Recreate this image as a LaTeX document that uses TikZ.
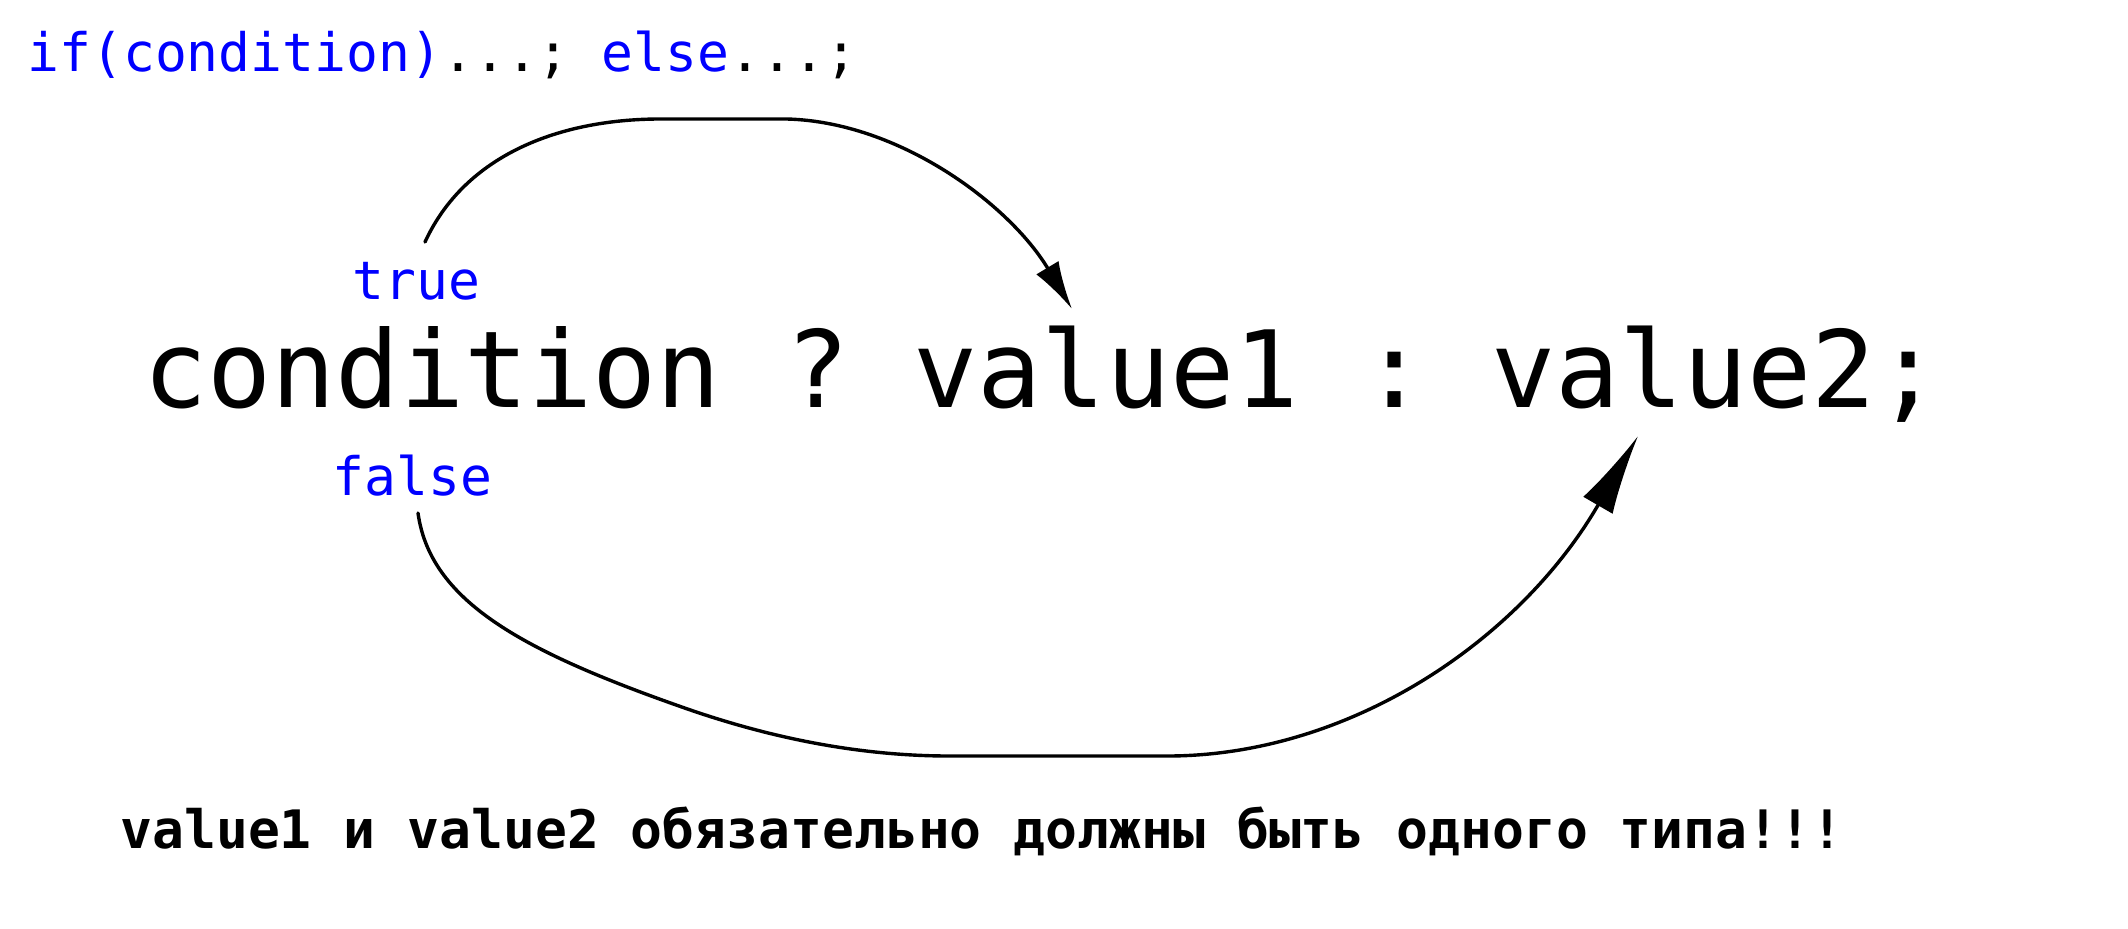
\documentclass[tikz,border=0pt]{standalone}
\usepackage{fontspec}
\setmonofont{DejaVu Sans Mono}
\usetikzlibrary{arrows.meta}
\definecolor{kwblue}{RGB}{0,0,255}
\begin{document}
\begin{tikzpicture}[x=0.5pt,y=-0.5pt,
  small/.style={font=\ttfamily\fontsize{26.5}{30}\selectfont, inner sep=0pt, anchor=base west},
  smallbold/.style={font=\ttfamily\bfseries\fontsize{26.5}{30}\selectfont, inner sep=0pt, anchor=base west},
  big/.style={font=\ttfamily\fontsize{53.3}{60}\selectfont, inner sep=0pt, anchor=base west},
  arr/.style={line width=1.7pt, line cap=round, line join=round}]
\useasboundingbox[fill=white] (0,0) rectangle (2128,928);

\node[small] (ifelse) at (27,71) {\textcolor{kwblue}{if(condition)}...; \textcolor{kwblue}{else}...;};
\node[small, text=kwblue] (true) at (352,299) {true};
\node[big] (expr) at (143,407) {condition ? value1 : value2;};
\node[small, text=kwblue] (false) at (332,495) {false};
\node[smallbold] (note) at (120,848) {value1 и value2 обязательно должны быть одного типа!!!};

\coordinate (ts) at (425,242);
\coordinate (te) at (1072,309);
\coordinate (fs) at (418,513);
\coordinate (fe) at (1638,436);

\draw[arr, -{Latex[length=24pt,width=13pt]}] (ts) .. controls (465,155) and (560,118) .. (665,119) -- (787,119) .. controls (900,122) and (1010,205) .. (te);
\draw[arr, -{Latex[length=40pt,width=17pt]}] (fs) .. controls (430,600) and (520,650) .. (679,706) .. controls (780,742) and (870,756) .. (950,756) -- (1167,756) .. controls (1350,756) and (1520,640) .. (fe);
\end{tikzpicture}
\end{document}
